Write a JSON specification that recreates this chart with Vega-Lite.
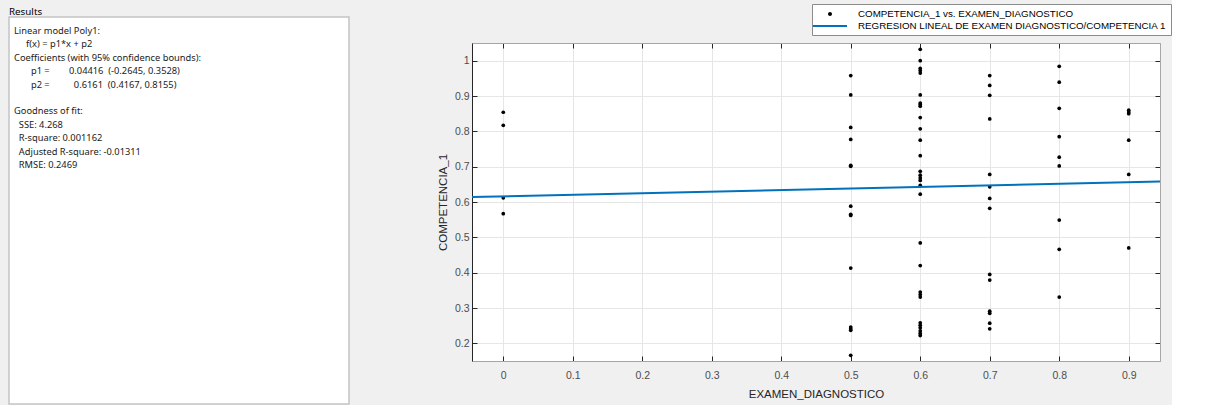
{
  "$schema": "https://vega.github.io/schema/vega-lite/v6.json",
  "background": "#f0f0f0",
  "padding": {"left": 8, "top": 3, "right": 0, "bottom": 0},
  "spacing": 86,
  "config": {
    "font": "Liberation Sans",
    "axis": {"titleFontWeight": "normal"}
  },
  "resolve": {"scale": {"color": "independent"}, "legend": {"color": "independent"}},
  "datasets": {
    "resultados": [
      {"linea": 1, "texto": "Linear model Poly1:"},
      {"linea": 2, "texto": "\u200b\u00a0\u00a0\u00a0\u00a0\u00a0f(x) = p1*x + p2"},
      {"linea": 3, "texto": "Coefficients (with 95% confidence bounds):"},
      {"linea": 4, "texto": "\u200b\u00a0\u00a0\u00a0\u00a0\u00a0\u00a0\u00a0p1 =\u00a0\u00a0\u00a0\u00a0\u00a0\u00a0\u00a0\u00a00.04416\u00a0\u00a0(-0.2645, 0.3528)"},
      {"linea": 5, "texto": "\u200b\u00a0\u00a0\u00a0\u00a0\u00a0\u00a0\u00a0p2 =\u00a0\u00a0\u00a0\u00a0\u00a0\u00a0\u00a0\u00a0\u00a0\u00a00.6161\u00a0\u00a0(0.4167, 0.8155)"},
      {"linea": 7, "texto": "Goodness of fit:"},
      {"linea": 8, "texto": "\u200b\u00a0\u00a0SSE: 4.268"},
      {"linea": 9, "texto": "\u200b\u00a0\u00a0R-square: 0.001162"},
      {"linea": 10, "texto": "\u200b\u00a0\u00a0Adjusted R-square: -0.01311"},
      {"linea": 11, "texto": "\u200b\u00a0\u00a0RMSE: 0.2469"}
    ],
    "puntos": [
      {"examen": 0, "competencia": 0.854, "serie": "COMPETENCIA_1 vs. EXAMEN_DIAGNOSTICO"},
      {"examen": 0, "competencia": 0.817, "serie": "COMPETENCIA_1 vs. EXAMEN_DIAGNOSTICO"},
      {"examen": 0, "competencia": 0.612, "serie": "COMPETENCIA_1 vs. EXAMEN_DIAGNOSTICO"},
      {"examen": 0, "competencia": 0.567, "serie": "COMPETENCIA_1 vs. EXAMEN_DIAGNOSTICO"},
      {"examen": 0.5, "competencia": 0.958, "serie": "COMPETENCIA_1 vs. EXAMEN_DIAGNOSTICO"},
      {"examen": 0.5, "competencia": 0.903, "serie": "COMPETENCIA_1 vs. EXAMEN_DIAGNOSTICO"},
      {"examen": 0.5, "competencia": 0.811, "serie": "COMPETENCIA_1 vs. EXAMEN_DIAGNOSTICO"},
      {"examen": 0.5, "competencia": 0.777, "serie": "COMPETENCIA_1 vs. EXAMEN_DIAGNOSTICO"},
      {"examen": 0.5, "competencia": 0.704, "serie": "COMPETENCIA_1 vs. EXAMEN_DIAGNOSTICO"},
      {"examen": 0.5, "competencia": 0.701, "serie": "COMPETENCIA_1 vs. EXAMEN_DIAGNOSTICO"},
      {"examen": 0.5, "competencia": 0.588, "serie": "COMPETENCIA_1 vs. EXAMEN_DIAGNOSTICO"},
      {"examen": 0.5, "competencia": 0.565, "serie": "COMPETENCIA_1 vs. EXAMEN_DIAGNOSTICO"},
      {"examen": 0.5, "competencia": 0.562, "serie": "COMPETENCIA_1 vs. EXAMEN_DIAGNOSTICO"},
      {"examen": 0.5, "competencia": 0.413, "serie": "COMPETENCIA_1 vs. EXAMEN_DIAGNOSTICO"},
      {"examen": 0.5, "competencia": 0.246, "serie": "COMPETENCIA_1 vs. EXAMEN_DIAGNOSTICO"},
      {"examen": 0.5, "competencia": 0.241, "serie": "COMPETENCIA_1 vs. EXAMEN_DIAGNOSTICO"},
      {"examen": 0.5, "competencia": 0.237, "serie": "COMPETENCIA_1 vs. EXAMEN_DIAGNOSTICO"},
      {"examen": 0.5, "competencia": 0.166, "serie": "COMPETENCIA_1 vs. EXAMEN_DIAGNOSTICO"},
      {"examen": 0.6, "competencia": 1.032, "serie": "COMPETENCIA_1 vs. EXAMEN_DIAGNOSTICO"},
      {"examen": 0.6, "competencia": 1.0, "serie": "COMPETENCIA_1 vs. EXAMEN_DIAGNOSTICO"},
      {"examen": 0.6, "competencia": 0.978, "serie": "COMPETENCIA_1 vs. EXAMEN_DIAGNOSTICO"},
      {"examen": 0.6, "competencia": 0.972, "serie": "COMPETENCIA_1 vs. EXAMEN_DIAGNOSTICO"},
      {"examen": 0.6, "competencia": 0.965, "serie": "COMPETENCIA_1 vs. EXAMEN_DIAGNOSTICO"},
      {"examen": 0.6, "competencia": 0.903, "serie": "COMPETENCIA_1 vs. EXAMEN_DIAGNOSTICO"},
      {"examen": 0.6, "competencia": 0.880, "serie": "COMPETENCIA_1 vs. EXAMEN_DIAGNOSTICO"},
      {"examen": 0.6, "competencia": 0.876, "serie": "COMPETENCIA_1 vs. EXAMEN_DIAGNOSTICO"},
      {"examen": 0.6, "competencia": 0.871, "serie": "COMPETENCIA_1 vs. EXAMEN_DIAGNOSTICO"},
      {"examen": 0.6, "competencia": 0.839, "serie": "COMPETENCIA_1 vs. EXAMEN_DIAGNOSTICO"},
      {"examen": 0.6, "competencia": 0.807, "serie": "COMPETENCIA_1 vs. EXAMEN_DIAGNOSTICO"},
      {"examen": 0.6, "competencia": 0.775, "serie": "COMPETENCIA_1 vs. EXAMEN_DIAGNOSTICO"},
      {"examen": 0.6, "competencia": 0.731, "serie": "COMPETENCIA_1 vs. EXAMEN_DIAGNOSTICO"},
      {"examen": 0.6, "competencia": 0.687, "serie": "COMPETENCIA_1 vs. EXAMEN_DIAGNOSTICO"},
      {"examen": 0.6, "competencia": 0.676, "serie": "COMPETENCIA_1 vs. EXAMEN_DIAGNOSTICO"},
      {"examen": 0.6, "competencia": 0.668, "serie": "COMPETENCIA_1 vs. EXAMEN_DIAGNOSTICO"},
      {"examen": 0.6, "competencia": 0.661, "serie": "COMPETENCIA_1 vs. EXAMEN_DIAGNOSTICO"},
      {"examen": 0.6, "competencia": 0.647, "serie": "COMPETENCIA_1 vs. EXAMEN_DIAGNOSTICO"},
      {"examen": 0.6, "competencia": 0.622, "serie": "COMPETENCIA_1 vs. EXAMEN_DIAGNOSTICO"},
      {"examen": 0.6, "competencia": 0.484, "serie": "COMPETENCIA_1 vs. EXAMEN_DIAGNOSTICO"},
      {"examen": 0.6, "competencia": 0.420, "serie": "COMPETENCIA_1 vs. EXAMEN_DIAGNOSTICO"},
      {"examen": 0.6, "competencia": 0.345, "serie": "COMPETENCIA_1 vs. EXAMEN_DIAGNOSTICO"},
      {"examen": 0.6, "competencia": 0.338, "serie": "COMPETENCIA_1 vs. EXAMEN_DIAGNOSTICO"},
      {"examen": 0.6, "competencia": 0.331, "serie": "COMPETENCIA_1 vs. EXAMEN_DIAGNOSTICO"},
      {"examen": 0.6, "competencia": 0.258, "serie": "COMPETENCIA_1 vs. EXAMEN_DIAGNOSTICO"},
      {"examen": 0.6, "competencia": 0.251, "serie": "COMPETENCIA_1 vs. EXAMEN_DIAGNOSTICO"},
      {"examen": 0.6, "competencia": 0.244, "serie": "COMPETENCIA_1 vs. EXAMEN_DIAGNOSTICO"},
      {"examen": 0.6, "competencia": 0.235, "serie": "COMPETENCIA_1 vs. EXAMEN_DIAGNOSTICO"},
      {"examen": 0.6, "competencia": 0.228, "serie": "COMPETENCIA_1 vs. EXAMEN_DIAGNOSTICO"},
      {"examen": 0.6, "competencia": 0.222, "serie": "COMPETENCIA_1 vs. EXAMEN_DIAGNOSTICO"},
      {"examen": 0.7, "competencia": 0.958, "serie": "COMPETENCIA_1 vs. EXAMEN_DIAGNOSTICO"},
      {"examen": 0.7, "competencia": 0.930, "serie": "COMPETENCIA_1 vs. EXAMEN_DIAGNOSTICO"},
      {"examen": 0.7, "competencia": 0.902, "serie": "COMPETENCIA_1 vs. EXAMEN_DIAGNOSTICO"},
      {"examen": 0.7, "competencia": 0.835, "serie": "COMPETENCIA_1 vs. EXAMEN_DIAGNOSTICO"},
      {"examen": 0.7, "competencia": 0.678, "serie": "COMPETENCIA_1 vs. EXAMEN_DIAGNOSTICO"},
      {"examen": 0.7, "competencia": 0.643, "serie": "COMPETENCIA_1 vs. EXAMEN_DIAGNOSTICO"},
      {"examen": 0.7, "competencia": 0.610, "serie": "COMPETENCIA_1 vs. EXAMEN_DIAGNOSTICO"},
      {"examen": 0.7, "competencia": 0.582, "serie": "COMPETENCIA_1 vs. EXAMEN_DIAGNOSTICO"},
      {"examen": 0.7, "competencia": 0.395, "serie": "COMPETENCIA_1 vs. EXAMEN_DIAGNOSTICO"},
      {"examen": 0.7, "competencia": 0.379, "serie": "COMPETENCIA_1 vs. EXAMEN_DIAGNOSTICO"},
      {"examen": 0.7, "competencia": 0.291, "serie": "COMPETENCIA_1 vs. EXAMEN_DIAGNOSTICO"},
      {"examen": 0.7, "competencia": 0.285, "serie": "COMPETENCIA_1 vs. EXAMEN_DIAGNOSTICO"},
      {"examen": 0.7, "competencia": 0.257, "serie": "COMPETENCIA_1 vs. EXAMEN_DIAGNOSTICO"},
      {"examen": 0.7, "competencia": 0.241, "serie": "COMPETENCIA_1 vs. EXAMEN_DIAGNOSTICO"},
      {"examen": 0.8, "competencia": 0.984, "serie": "COMPETENCIA_1 vs. EXAMEN_DIAGNOSTICO"},
      {"examen": 0.8, "competencia": 0.939, "serie": "COMPETENCIA_1 vs. EXAMEN_DIAGNOSTICO"},
      {"examen": 0.8, "competencia": 0.865, "serie": "COMPETENCIA_1 vs. EXAMEN_DIAGNOSTICO"},
      {"examen": 0.8, "competencia": 0.785, "serie": "COMPETENCIA_1 vs. EXAMEN_DIAGNOSTICO"},
      {"examen": 0.8, "competencia": 0.727, "serie": "COMPETENCIA_1 vs. EXAMEN_DIAGNOSTICO"},
      {"examen": 0.8, "competencia": 0.702, "serie": "COMPETENCIA_1 vs. EXAMEN_DIAGNOSTICO"},
      {"examen": 0.8, "competencia": 0.549, "serie": "COMPETENCIA_1 vs. EXAMEN_DIAGNOSTICO"},
      {"examen": 0.8, "competencia": 0.466, "serie": "COMPETENCIA_1 vs. EXAMEN_DIAGNOSTICO"},
      {"examen": 0.8, "competencia": 0.331, "serie": "COMPETENCIA_1 vs. EXAMEN_DIAGNOSTICO"},
      {"examen": 0.9, "competencia": 0.860, "serie": "COMPETENCIA_1 vs. EXAMEN_DIAGNOSTICO"},
      {"examen": 0.9, "competencia": 0.855, "serie": "COMPETENCIA_1 vs. EXAMEN_DIAGNOSTICO"},
      {"examen": 0.9, "competencia": 0.850, "serie": "COMPETENCIA_1 vs. EXAMEN_DIAGNOSTICO"},
      {"examen": 0.9, "competencia": 0.775, "serie": "COMPETENCIA_1 vs. EXAMEN_DIAGNOSTICO"},
      {"examen": 0.9, "competencia": 0.678, "serie": "COMPETENCIA_1 vs. EXAMEN_DIAGNOSTICO"},
      {"examen": 0.9, "competencia": 0.470, "serie": "COMPETENCIA_1 vs. EXAMEN_DIAGNOSTICO"}
    ],
    "recta": [
      {"examen": -0.045, "competencia": 0.6141},
      {"examen": 0.945, "competencia": 0.6578}
    ]
  },
  "hconcat": [
    {
      "width": 340,
      "height": 387,
      "title": {"text": "Results", "anchor": "start", "fontSize": 9.8, "fontWeight": "normal", "font": "Noto Sans", "color": "#000000", "offset": 0},
      "view": {"fill": "#ffffff", "stroke": "#c4c4c4", "strokeWidth": 1.5},
      "data": {"name": "resultados"},
      "mark": {"type": "text", "align": "left", "baseline": "middle", "font": "Noto Sans", "fontSize": 9.3, "color": "#1a1a1a", "dx": 5},
      "encoding": {
        "x": {"datum": 0, "type": "quantitative", "scale": {"domain": [0, 1]}, "axis": null},
        "y": {"field": "linea", "type": "quantitative", "scale": {"domain": [-0.05, 28.83], "reverse": true}, "axis": null},
        "text": {"field": "texto"}
      }
    },
    {
      "spacing": -15,
      "resolve": {"scale": {"color": "independent"}, "legend": {"color": "independent"}},
      "vconcat": [
        {
          "width": 1,
          "height": 1,
          "view": {"stroke": null, "fill": null},
          "data": {"values": []},
          "mark": "point"
        },
        {
          "width": 688,
          "height": 318,
          "view": {"fill": "#ffffff", "stroke": "#a6a6a6"},
          "resolve": {"axis": {"x": "independent", "y": "independent"}},
          "layer": [
            {
              "data": {"name": "puntos"},
              "mark": {"type": "point", "filled": true, "size": 14, "opacity": 1},
              "encoding": {
                "x": {
                  "field": "examen", "type": "quantitative",
                  "scale": {"domain": [-0.045, 0.945], "nice": false, "zero": false},
                  "axis": {
                    "values": [0, 0.1, 0.2, 0.3, 0.4, 0.5, 0.6, 0.7, 0.8, 0.9], "format": "~g",
                    "title": "EXAMEN_DIAGNOSTICO", "titleFontSize": 11.5, "titleColor": "#262626", "titlePadding": 8,
                    "labelFontSize": 10.5, "labelColor": "#4d4d4d", "labelPadding": 14,
                    "tickSize": -5, "tickColor": "#262626", "domainColor": "#a6a6a6",
                    "grid": true, "gridColor": "#e6e6e6"
                  }
                },
                "y": {
                  "field": "competencia", "type": "quantitative",
                  "scale": {"domain": [0.15, 1.05], "nice": false, "zero": false},
                  "axis": {
                    "values": [0.2, 0.3, 0.4, 0.5, 0.6, 0.7, 0.8, 0.9, 1], "format": "~g",
                    "title": "COMPETENCIA_1", "titleFontSize": 11.5, "titleColor": "#262626", "titlePadding": 6,
                    "labelFontSize": 10.5, "labelColor": "#4d4d4d", "labelPadding": 8,
                    "tickSize": -5, "tickColor": "#262626", "domainColor": "#262626",
                    "grid": true, "gridColor": "#e6e6e6"
                  }
                },
                "color": {
                  "field": "serie", "type": "nominal",
                  "scale": {
                    "domain": ["COMPETENCIA_1 vs. EXAMEN_DIAGNOSTICO", "REGRESION LINEAL DE EXAMEN DIAGNOSTICO/COMPETENCIA 1"],
                    "range": ["#000000", "#0072bd"]
                  },
                  "legend": {
                    "title": null, "orient": "none", "legendX": 340, "legendY": -39,
                    "fillColor": "#ffffff", "strokeColor": "#8c8c8c", "padding": 4,
                    "symbolType": {"expr": "datum.value[0] === 'C' ? 'M-0.4,0A0.4,0.4,0,1,1,0.4,0A0.4,0.4,0,1,1,-0.4,0Z' : 'M-3.4,0L3.4,0'"},
                    "symbolSize": 100,
                    "symbolOffset": 8,
                    "symbolStrokeColor": {"expr": "datum.value[0] === 'C' ? 'transparent' : '#0072bd'"},
                    "symbolStrokeWidth": 2,
                    "labelFontSize": 9.75, "labelColor": "#000000", "labelOffset": 22, "labelLimit": 0, "rowPadding": 0
                  }
                }
              }
            },
            {
              "data": {"name": "recta"},
              "mark": {"type": "line", "strokeWidth": 2, "color": "#0072bd"},
              "encoding": {
                "x": {"field": "examen", "type": "quantitative", "axis": {"orient": "top", "labels": false, "title": null, "grid": false, "tickSize": -5, "tickColor": "#262626", "domainColor": "#a6a6a6", "values": [0, 0.1, 0.2, 0.3, 0.4, 0.5, 0.6, 0.7, 0.8, 0.9]}},
                "y": {"field": "competencia", "type": "quantitative", "axis": {"orient": "right", "labels": false, "title": null, "grid": false, "tickSize": -5, "tickColor": "#262626", "domainColor": "#a6a6a6", "values": [0.2, 0.3, 0.4, 0.5, 0.6, 0.7, 0.8, 0.9, 1]}}
              }
            }
          ]
        }
      ]
    }
  ]
}
